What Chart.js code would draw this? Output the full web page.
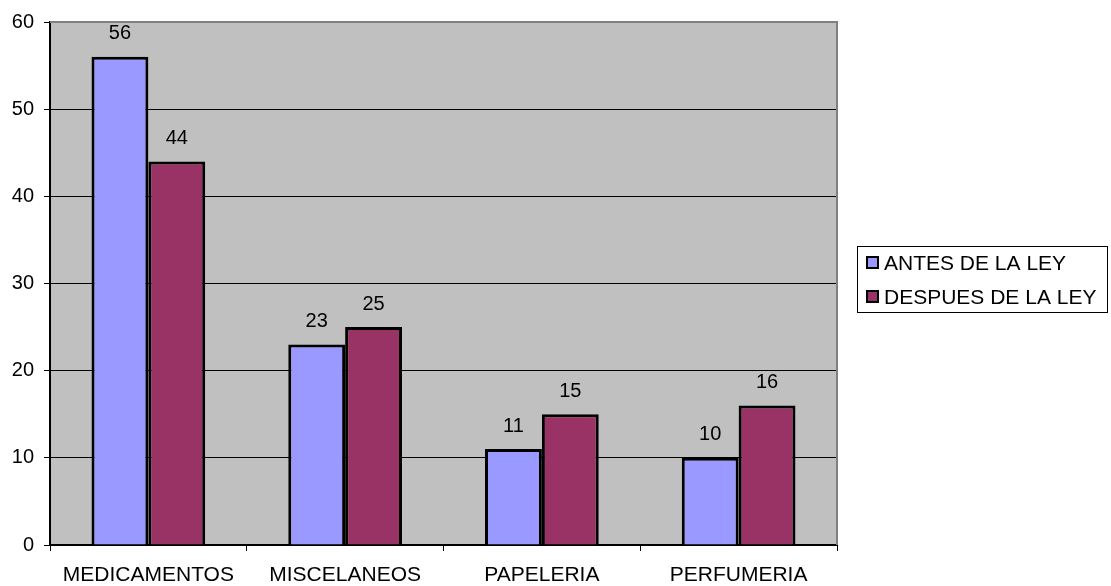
<!DOCTYPE html>
<html>
<head>
<meta charset="utf-8">
<script src="https://cdn.jsdelivr.net/npm/chart.js@4/dist/chart.umd.min.js"></script>
<style>
  html, body { margin: 0; padding: 0; background: #ffffff; }
  #wrap { width: 1111px; height: 586px; position: relative; }
</style>
</head>
<body>
<div id="wrap"><canvas id="c" width="1111" height="586"></canvas></div>
<script>
// Categories and series values
const categories = ['MEDICAMENTOS', 'MISCELANEOS', 'PAPELERIA', 'PERFUMERIA'];
const antesValues = [56, 23, 11, 10];
const despuesValues = [44, 25, 15, 16];
const seriesNames = ['ANTES DE LA LEY', 'DESPUES DE LA LEY'];
const yTicks = [0, 10, 20, 30, 40, 50, 60];

const FONT = '"Liberation Sans", Arial, sans-serif';
const FONT_SIZE = 20;
const colors = ['#9999FF', '#993366'];

// Gray plot background with a gray outline on top and right
const plotBackground = {
  id: 'plotBackground',
  beforeDraw(chart) {
    const { ctx, chartArea: a } = chart;
    ctx.save();
    ctx.fillStyle = '#C0C0C0';
    ctx.fillRect(a.left, a.top, a.right - a.left, a.bottom - a.top);
    ctx.restore();
  },
  afterDatasetsDraw(chart) {
    const { ctx, chartArea: a } = chart;
    ctx.save();
    ctx.strokeStyle = '#808080';
    ctx.lineWidth = 2;
    ctx.beginPath();
    ctx.moveTo(a.left, a.top);
    ctx.lineTo(a.right, a.top);
    ctx.lineTo(a.right, a.bottom);
    ctx.stroke();
    ctx.restore();
  }
};

// Value labels above each bar
const valueLabels = {
  id: 'valueLabels',
  afterDatasetsDraw(chart) {
    const { ctx } = chart;
    ctx.save();
    ctx.font = FONT_SIZE + 'px ' + FONT;
    ctx.fillStyle = '#000';
    ctx.textAlign = 'center';
    ctx.textBaseline = 'middle';
    chart.data.datasets.forEach((ds, i) => {
      chart.getDatasetMeta(i).data.forEach((bar, j) => {
        ctx.fillText(String(ds.data[j]), bar.x, bar.y - 23);
      });
    });
    ctx.restore();
  }
};

// Boxed legend on the right
const boxLegend = {
  id: 'boxLegend',
  afterDraw(chart) {
    const { ctx } = chart;
    const x = 857, y = 246, w = 250, h = 66;
    ctx.save();
    ctx.fillStyle = '#fff';
    ctx.fillRect(x, y, w, h);
    ctx.strokeStyle = '#000';
    ctx.lineWidth = 1;
    ctx.strokeRect(x + 0.5, y + 0.5, w, h);
    ctx.font = '21px ' + FONT;
    ctx.textBaseline = 'middle';
    ctx.textAlign = 'left';
    seriesNames.forEach((name, i) => {
      const cy = y + 17 + i * 34;
      ctx.fillStyle = colors[i];
      ctx.fillRect(867, cy - 6, 11, 11);
      ctx.strokeStyle = '#000';
      ctx.lineWidth = 2;
      ctx.strokeRect(867, cy - 6, 11, 11);
      ctx.fillStyle = '#000';
      ctx.fillText(name, 884, cy + 1);
    });
    ctx.restore();
  }
};

new Chart(document.getElementById('c'), {
  type: 'bar',
  data: {
    labels: categories,
    datasets: [
      { label: seriesNames[0], data: antesValues, backgroundColor: colors[0], borderColor: '#000', borderWidth: 3 },
      { label: seriesNames[1], data: despuesValues, backgroundColor: colors[1], borderColor: '#000', borderWidth: 3 }
    ]
  },
  options: {
    responsive: false,
    animation: false,
    devicePixelRatio: 1,
    layout: { padding: { left: 0, right: 274, top: 21, bottom: 0 } },
    datasets: { bar: { categoryPercentage: 0.578, barPercentage: 1.0 } },
    plugins: {
      legend: { display: false },
      tooltip: { enabled: false }
    },
    scales: {
      x: {
        offset: true,
        grid: {
          offset: true,
          drawOnChartArea: false,
          drawTicks: true,
          tickLength: 6,
          color: '#000',
          lineWidth: 1
        },
        border: { color: '#000', width: 2 },
        ticks: { color: '#000', font: { family: FONT, size: 21 }, padding: 12, maxRotation: 0, autoSkip: false },
        afterFit(scale) { scale.height = 41; }
      },
      y: {
        min: 0,
        max: 60,
        afterBuildTicks(scale) { scale.ticks = yTicks.map(v => ({ value: v })); },
        grid: {
          color: (c) => (c.tick && c.tick.value === 60 ? '#808080' : '#000'),
          lineWidth: 1,
          tickLength: 6,
          tickColor: '#000'
        },
        border: { color: '#000', width: 2 },
        ticks: { color: '#000', font: { family: FONT, size: FONT_SIZE }, padding: 10 },
        afterFit(scale) { scale.width = 50; }
      }
    }
  },
  plugins: [plotBackground, valueLabels, boxLegend]
});
</script>
</body>
</html>
